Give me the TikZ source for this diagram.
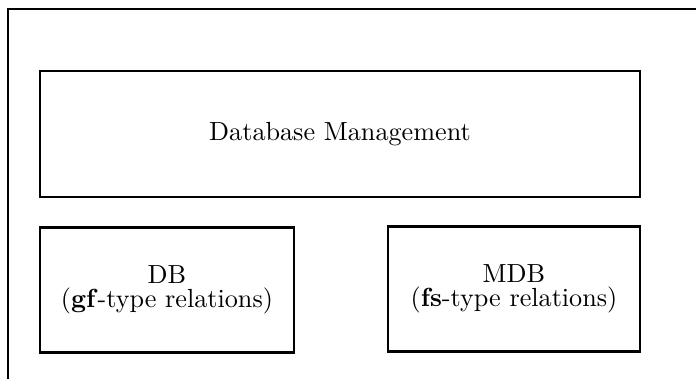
\documentclass[tikz,border=0pt]{standalone}
\begin{document}
\begin{tikzpicture}[x=0.382pt, y=-0.382pt,
  box/.style={draw, line width=0.85pt, rectangle, inner sep=0pt, align=center,
              font=\fontsize{10}{9.4}\selectfont}]
\useasboundingbox (0,0) rectangle (696,378);
% outer frame (cropped)
\coordinate (fbl) at (8,385);
\coordinate (ftl) at (8,9);
\coordinate (ftr) at (705,9);
\draw[line width=0.85pt] (fbl) -- (ftl) -- (ftr);
\node[box, minimum width=229.2pt, minimum height=48.1pt] (dbm) at (340,134) {Database Management};
\node[box, minimum width=97.0pt, minimum height=47.75pt] (db) at (167,290) {DB\\(\textbf{gf}-type relations)};
\node[box, minimum width=96.3pt, minimum height=47.75pt] (mdb) at (514,289) {MDB\\(\textbf{fs}-type relations)};
\end{tikzpicture}
\end{document}
